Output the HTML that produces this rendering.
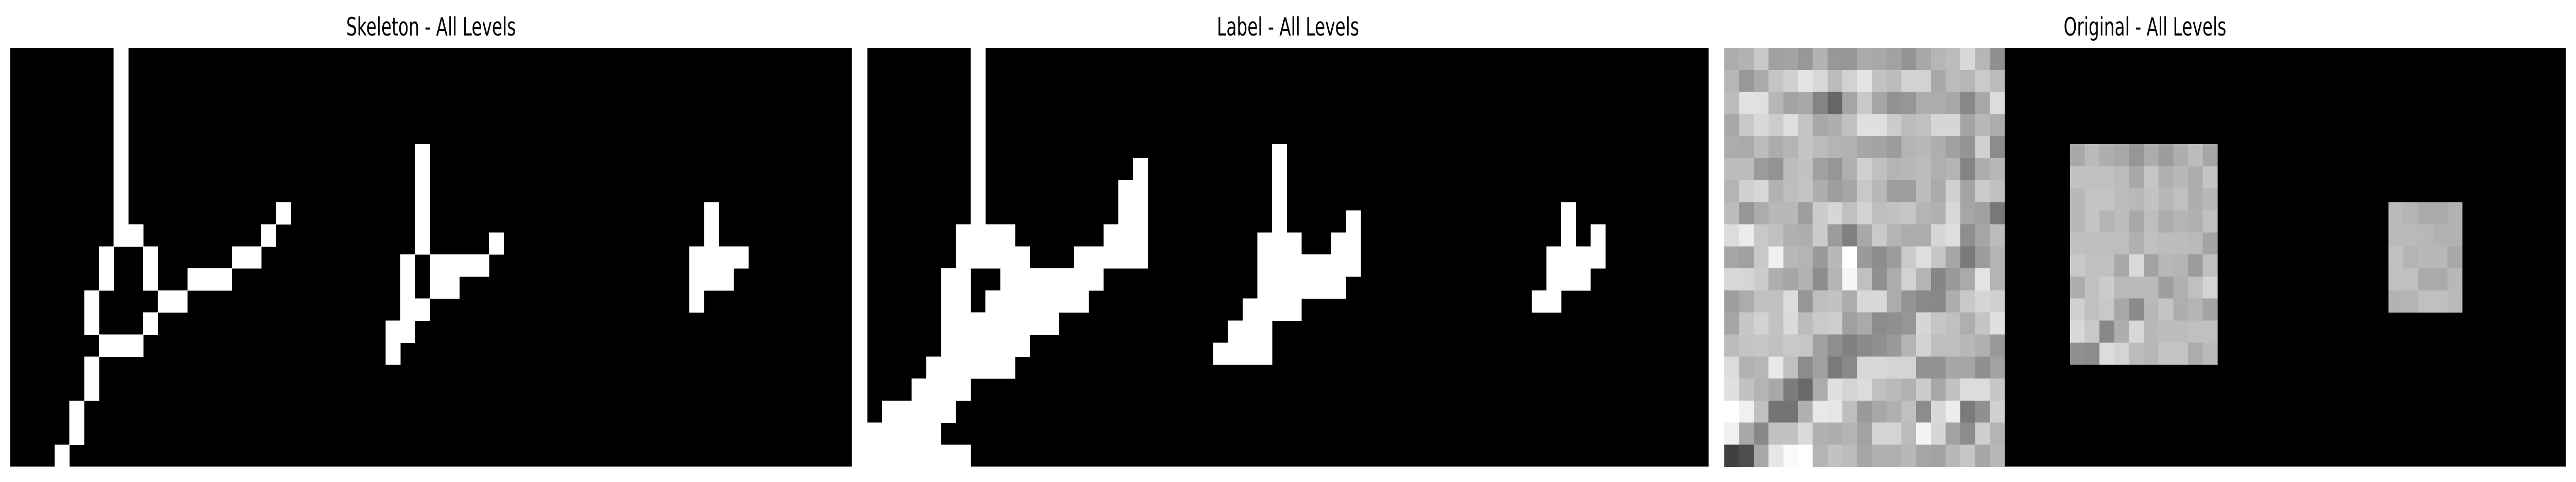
<!DOCTYPE html>
<html><head><meta charset="utf-8"><style>
html,body{margin:0;padding:0;background:#fff;width:100%;height:100%;overflow:hidden;}
svg{display:block;width:100vw;height:100vh;}
text{font-family:"DejaVu Sans","Liberation Sans",sans-serif;}
</style></head><body>
<svg id="fig" viewBox="0 0 7470 936" preserveAspectRatio="none" xmlns="http://www.w3.org/2000/svg" shape-rendering="crispEdges">
<g id="p0"></g>
<g id="p1"></g>
<g id="p2"></g>
<text x="1250" y="69" font-size="49" text-anchor="middle">Skeleton - All Levels</text>
<text x="3735" y="69" font-size="49" text-anchor="middle">Label - All Levels</text>
<text x="6220" y="69" font-size="49" text-anchor="middle">Original - All Levels</text>
</svg>
<script>
const skelL1 = [
"0000000100000000000","0000000100000000000","0000000100000000000","0000000100000000000",
"0000000100000000000","0000000100000000000","0000000100000000000","0000000100000000001",
"0000000110000000010","0000001001000001100","0000001001001110000","0000010000110000000",
"0000010001000000000","0000001110000000000","0000010000000000000","0000010000000000000",
"0000100000000000000","0000100000000000000","0001000000000000000"];
const skelL2 = ["0000100000","0000100000","0000100000","0000100000","0000100001",
"0001011110","0001011000","0001100000","0011000000","0010000000"];
const skelL3 = ["00100","00100","01111","01110","01000"];
const labL1 = [
"0000000100000000000","0000000100000000000","0000000100000000000","0000000100000000000",
"0000000100000000000","0000000100000000001","0000000100000000011","0000000100000000011",
"0000001111000000111","0000001111100011111","0000011001111111000","0000011011111110000",
"0000011111111000000","0000011111100000000","0000111111000000000","0001111000000000000",
"0111110000000000000","1111100000000000000","1111111000000000000"];
const labL2 = ["0000100000","0000100000","0000100000","0000100001","0001110011",
"0001111111","0001111110","0011110000","0111000000","1111000000"];
const labL3 = ["00100","00101","01111","01110","11000"];
const origL1 = [
[0xad,0xb3,0xc8,0xa0,0xa4,0x98,0xb3,0x98,0x96,0xab,0xa8,0xa2,0x94,0xa8,0xb6,0xbc,0xd8,0xb6,0x90],
[0xb6,0x98,0xaa,0xc4,0xd0,0xe4,0xd8,0xbb,0xd2,0xe4,0xc2,0xbc,0xd2,0xd2,0xa8,0xbb,0xb6,0xca,0xbb],
[0xbc,0xe2,0xe0,0xb6,0xa4,0xa8,0x84,0x66,0xa5,0xc8,0xa6,0x92,0x96,0xac,0xad,0xa8,0x88,0xa8,0xdc],
[0xa8,0xc8,0xd8,0xcc,0xde,0xc4,0xa8,0xae,0xc0,0xe0,0xe0,0xcc,0xbc,0xc0,0xd6,0xd6,0xa4,0xb8,0xac],
[0xac,0xaa,0xbc,0xac,0xb4,0xc4,0xbc,0xb4,0xb2,0xa6,0xa4,0x9c,0xb4,0xb8,0xae,0xa0,0x94,0xd0,0x8c],
[0xbc,0xbc,0x9c,0x94,0xbc,0xc2,0xa0,0x96,0xb0,0xd0,0xc0,0xb4,0xb8,0xbc,0xb0,0xb4,0x84,0xae,0xb8],
[0xb4,0xd0,0xd8,0xb2,0xbe,0xc4,0xae,0x9e,0xa6,0xc8,0xb8,0x9e,0x9e,0xbc,0xaa,0xd0,0xa4,0xca,0xc0],
[0xbc,0x96,0xac,0xb8,0xb8,0x9e,0xcc,0xd6,0xc0,0xd2,0xbe,0xc2,0xc6,0xb4,0xb0,0xd8,0xa6,0xa0,0x78],
[0xdc,0xec,0xc8,0xc0,0xb0,0xae,0xcc,0x9c,0x80,0xa8,0xca,0xb4,0xac,0xac,0xd6,0xde,0x8e,0xa6,0xbc],
[0xa6,0xa0,0xc8,0xf0,0xb8,0xb4,0x9a,0xb8,0xff,0x9a,0x8c,0x9c,0xca,0xde,0xc6,0xa6,0x7a,0x9c,0xb4],
[0xd8,0xd6,0xcc,0xae,0xa6,0xb2,0x8c,0xb4,0xf6,0xc0,0x90,0xac,0xd2,0xb4,0x86,0x9a,0xaa,0xe4,0xb4],
[0x9e,0xac,0xc0,0xc0,0xdc,0x96,0xbe,0xc2,0xac,0xd8,0xd8,0xac,0x94,0x8a,0x88,0xae,0xc8,0xd6,0xd0],
[0xa6,0xc6,0xd2,0xc2,0xda,0xbc,0xca,0xce,0xa0,0xaa,0x8c,0x90,0x96,0xd6,0xc6,0xc0,0xae,0xc4,0xe0],
[0xbc,0xc4,0xc6,0xc0,0xc8,0xc6,0xa0,0x8e,0x80,0x8a,0x90,0x9a,0xb4,0xd2,0xbe,0xbe,0xb8,0xb0,0x98],
[0xdc,0xb2,0xb6,0xe8,0xc0,0x8c,0xa0,0x7a,0x8a,0xd8,0xd8,0xd4,0xd4,0x92,0x92,0xa6,0xa6,0x90,0xa2],
[0xe0,0xc2,0xb4,0xa8,0x7c,0x6a,0xac,0xe0,0xd4,0xdc,0xc0,0xba,0xb2,0xcc,0xa8,0xc2,0xdc,0xdc,0xc6],
[0xff,0xf0,0xc0,0x74,0x74,0xb0,0xe8,0xe6,0xbe,0x9a,0xa8,0xb0,0xc0,0x8c,0xd8,0xec,0x7a,0x90,0xd0],
[0xf0,0xa8,0x88,0xc2,0xc2,0xda,0xb0,0xae,0xb4,0xa2,0xd4,0xd4,0xbc,0xf4,0xd6,0xa2,0x8c,0xce,0xb4],
[0x40,0x4e,0xa8,0xe6,0xfa,0xff,0xb4,0xc2,0xbc,0xa6,0xb0,0xb0,0xb8,0xa6,0xa2,0xb8,0xc6,0xa6,0xb8]];
const origL2 = [
[0xa8,0xba,0xae,0xa8,0x96,0xac,0x9c,0xae,0xbc,0xa6],
[0xc2,0xc0,0xc0,0xbc,0xa8,0xc6,0xb0,0xb8,0xae,0xc4],
[0xb8,0xc4,0xc4,0xbc,0xb8,0xc2,0xb8,0xc0,0xae,0xb8],
[0xb8,0xc4,0xb4,0xbc,0xa8,0xbe,0xac,0xb4,0xb0,0xc0],
[0xc0,0xbe,0xbe,0xbe,0xb0,0xc0,0xbc,0xbc,0xba,0xa4],
[0xc8,0xc0,0xc0,0xa8,0xda,0xa2,0xb8,0xb4,0x9c,0xc0],
[0xac,0xc0,0xcc,0xba,0xba,0xba,0x9e,0xb0,0xc0,0xd4],
[0xd0,0xc0,0xc8,0xa8,0x8a,0xb8,0xc4,0xae,0xb4,0xa4],
[0xd8,0xc8,0x88,0xae,0xd8,0xb8,0xbc,0xbc,0xc0,0xc0],
[0x90,0x8c,0xdc,0xd4,0xbc,0xb6,0xc4,0xc4,0xac,0xba]];
const origL3 = [
[0xba,0xb4,0xaa,0xaa,0xb2],
[0xba,0xba,0xb8,0xb2,0xb2],
[0xc2,0xb4,0xb8,0xb8,0xa8],
[0xc0,0xc0,0xaa,0xaa,0xb8],
[0xb2,0xb4,0xc0,0xc0,0xba]];

const NS = "http://www.w3.org/2000/svg";
const panelX = [30, 2515, 5000];
const PY = 93, PW = 2440, PH = 813, COLS = 57;
const CELL = PW / COLS;
const levelOffsets = [[0,0],[23.42,4.37],[45,7]];
function xs(p, c){ return panelX[p] + c * CELL; }
function ys(r){ return PY + r * CELL; }

function bg(p){
  const g = document.getElementById('p'+p);
  const r = document.createElementNS(NS,'rect');
  
  
  r.setAttribute('x', panelX[p]); r.setAttribute('y', PY);
  r.setAttribute('width', PW); r.setAttribute('height', PH);
  r.setAttribute('fill', '#000');
  g.appendChild(r);
}
function mask(p, lvl, rows){
  const g = document.getElementById('p'+p);
  const [ox, oy] = levelOffsets[lvl];
  rows.forEach((row, ri) => {
    for (let ci = 0; ci < row.length; ci++) {
      if (row[ci] !== '1') continue;
      const r = document.createElementNS(NS,'rect');
      
      
      r.setAttribute('x', xs(p, ox + ci)); r.setAttribute('y', ys(oy + ri));
      r.setAttribute('width', CELL + 0.5); r.setAttribute('height', CELL + 0.5);
      r.setAttribute('fill', '#fff');
      g.appendChild(r);
    }
  });
}
function gray(p, lvl, vals){
  const g = document.getElementById('p'+p);
  const [ox, oy] = levelOffsets[lvl];
  vals.forEach((row, ri) => row.forEach((v, ci) => {
    const r = document.createElementNS(NS,'rect');
    
    
    r.setAttribute('x', xs(p, ox + ci)); r.setAttribute('y', ys(oy + ri));
    r.setAttribute('width', CELL + 0.5); r.setAttribute('height', CELL + 0.5);
    r.setAttribute('fill', `rgb(${v},${v},${v})`);
    g.appendChild(r);
  }));
}
[0,1,2].forEach(bg);
mask(0,0,skelL1); mask(0,1,skelL2); mask(0,2,skelL3);
mask(1,0,labL1); mask(1,1,labL2); mask(1,2,labL3);
gray(2,0,origL1); gray(2,1,origL2); gray(2,2,origL3);
</script>
</body></html>
